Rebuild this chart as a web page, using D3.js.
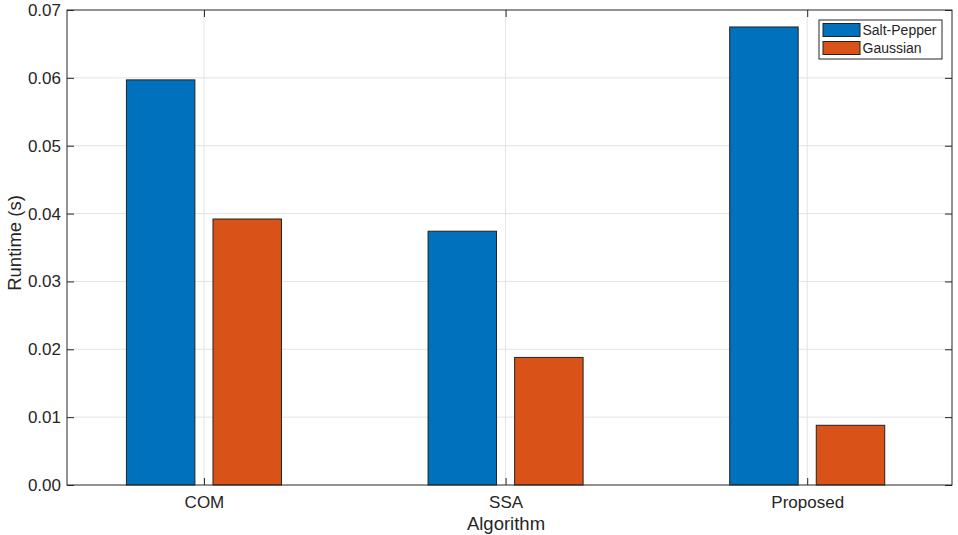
<!DOCTYPE html>
<html>
<head>
<meta charset="utf-8">
<script src="https://cdn.jsdelivr.net/npm/d3@7"></script>
<style>
  body { margin: 0; background: #fff; }
  text { font-family: "Liberation Sans", Arial, sans-serif; fill: #262626; }
</style>
</head>
<body>
<div id="chart"></div>
<script>
/* ── data ── */
const categories = ['COM', 'SSA', 'Proposed'];
const seriesNames = ['Salt-Pepper', 'Gaussian'];
const saltPepper = [0.0597, 0.0374, 0.0675];
const gaussian   = [0.0392, 0.0188, 0.0088];
const yTicks = [0, 0.01, 0.02, 0.03, 0.04, 0.05, 0.06, 0.07];
const colors = ['#0072BD', '#D95319'];

const W = 958, H = 535;
const M = { left: 67, right: 6, top: 10, bottom: 50 };
const innerW = W - M.left - M.right;
const innerH = H - M.top - M.bottom;

const svg = d3.select('#chart').append('svg')
    .attr('width', W).attr('height', H);

const g = svg.append('g').attr('transform', `translate(${M.left},${M.top})`);

const x = d3.scaleLinear().domain([0.546, 3.48]).range([0, innerW]);
const y = d3.scaleLinear().domain([0, 0.07]).range([innerH, 0]);

const BAR_W  = 0.227;
const OFFSET = 0.1435;
const TICK   = 7;

/* grid */
g.append('g').selectAll('line').data(yTicks.slice(1, -1)).join('line')
    .attr('x1', 0).attr('x2', innerW)
    .attr('y1', d => y(d)).attr('y2', d => y(d))
    .attr('stroke', '#e3e3e3').attr('stroke-width', 1);
g.append('g').selectAll('line').data(categories).join('line')
    .attr('x1', (d, i) => x(i + 1)).attr('x2', (d, i) => x(i + 1))
    .attr('y1', 0).attr('y2', innerH)
    .attr('stroke', '#e3e3e3').attr('stroke-width', 1);

/* bars */
const series = [saltPepper, gaussian];
series.forEach((vals, s) => {
    g.append('g').selectAll('rect').data(vals).join('rect')
        .attr('x', (d, i) => x(i + 1 + (s === 0 ? -OFFSET : OFFSET) - BAR_W / 2))
        .attr('width', x(BAR_W) - x(0))
        .attr('y', d => y(d))
        .attr('height', d => y(0) - y(d))
        .attr('fill', colors[s])
        .attr('stroke', '#222').attr('stroke-width', 1);
});

/* box + mirrored ticks */
g.append('rect').attr('x', 0).attr('y', 0).attr('width', innerW).attr('height', innerH)
    .attr('fill', 'none').attr('stroke', '#262626').attr('stroke-width', 1);

const yAxis = g.append('g')
    .call(d3.axisLeft(y).tickValues(yTicks).tickFormat(d3.format('.2f')).tickSize(-TICK).tickPadding(6));
yAxis.select('.domain').remove();
yAxis.selectAll('line').attr('stroke', '#262626');
yAxis.selectAll('text').attr('font-size', 17).attr('fill', '#262626');

const yAxisR = g.append('g').attr('transform', `translate(${innerW},0)`)
    .call(d3.axisRight(y).tickValues(yTicks).tickSize(-TICK).tickFormat(''));
yAxisR.select('.domain').remove();
yAxisR.selectAll('line').attr('stroke', '#262626');

const xAxis = g.append('g').attr('transform', `translate(0,${innerH})`)
    .call(d3.axisBottom(x).tickValues([1, 2, 3]).tickFormat(d => categories[d - 1]).tickSize(-TICK).tickPadding(11));
xAxis.select('.domain').remove();
xAxis.selectAll('line').attr('stroke', '#262626');
xAxis.selectAll('text').attr('font-size', 17).attr('fill', '#262626');

const xAxisT = g.append('g')
    .call(d3.axisTop(x).tickValues([1, 2, 3]).tickSize(-TICK).tickFormat(''));
xAxisT.select('.domain').remove();
xAxisT.selectAll('line').attr('stroke', '#262626');

/* axis labels */
svg.append('text')
    .attr('x', 506).attr('y', 530)
    .attr('text-anchor', 'middle').attr('font-size', 18.5)
    .text('Algorithm');
svg.append('text')
    .attr('transform', 'translate(21,243) rotate(-90)')
    .attr('text-anchor', 'middle').attr('font-size', 18.5)
    .text('Runtime (s)');

/* legend */
const lg = svg.append('g').attr('transform', 'translate(819,20)');
lg.append('rect').attr('width', 123).attr('height', 39)
    .attr('fill', '#fff').attr('stroke', '#262626').attr('stroke-width', 1);
seriesNames.forEach((name, i) => {
    lg.append('rect').attr('x', 4).attr('y', 3.5 + i * 18).attr('width', 37).attr('height', 13)
        .attr('fill', colors[i]).attr('stroke', '#222').attr('stroke-width', 1);
    lg.append('text').attr('x', 43.5).attr('y', 10 + i * 18).attr('dy', '0.36em')
        .attr('font-size', 14).text(name);
});
</script>
</body>
</html>
